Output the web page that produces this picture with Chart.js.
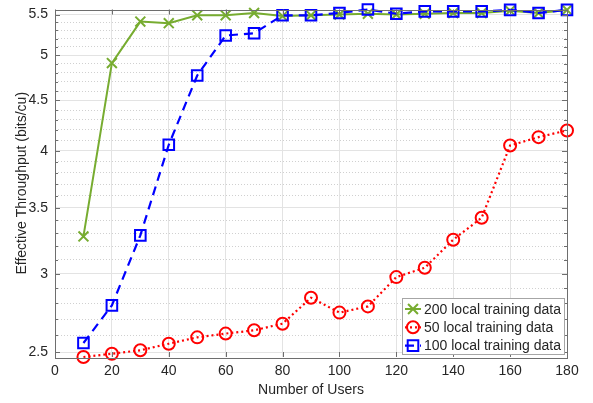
<!DOCTYPE html>
<html>
<head>
<meta charset="utf-8">
<script src="https://cdn.jsdelivr.net/npm/chart.js@4"></script>
<style>
  html, body { margin:0; padding:0; background:#fff; }
  canvas { display:block; }
</style>
</head>
<body>
<canvas id="ch" width="593" height="403"></canvas>
<script>
// ── data ──
const users     = [10, 20, 30, 40, 50, 60, 70, 80, 90, 100, 110, 120, 130, 140, 150, 160, 170, 180];
const data200   = [3.275, 4.91, 5.41, 5.39, 5.49, 5.49, 5.52, 5.48, 5.49, 5.50, 5.51, 5.50, 5.51, 5.52, 5.52, 5.55, 5.52, 5.56];
const data50    = [2.471, 2.49, 2.51, 2.549, 2.587, 2.61, 2.63, 2.671, 2.838, 2.741, 2.781, 2.978, 3.044, 3.25, 3.421, 4.05, 4.13, 4.195];
const data100   = [2.553, 2.788, 3.283, 4.057, 4.77, 5.237, 5.265, 5.49, 5.49, 5.52, 5.565, 5.51, 5.54, 5.54, 5.54, 5.56, 5.52, 5.56];
const xTicks    = [0, 20, 40, 60, 80, 100, 120, 140, 160, 180];
const yTicks    = [2.5, 2.6, 2.7, 2.8, 2.9, 3, 3.1, 3.2, 3.3, 3.4, 3.5, 3.6, 3.7, 3.8, 3.9, 4, 4.1, 4.2, 4.3, 4.4, 4.5, 4.6, 4.7, 4.8, 4.9, 5, 5.1, 5.2, 5.3, 5.4, 5.5];
const labels    = ['200 local training data', '50 local training data', '100 local training data'];

const FONT = '"Liberation Sans", Arial, sans-serif';
const TXT = '#262626';
const AX = '#6e6e6e';
const isMajor = v => Math.abs(v * 2 - Math.round(v * 2)) < 1e-6;

const pts = arr => users.map((u, i) => ({ x: u, y: arr[i] }));
const allY = [...data200, ...data50, ...data100];

// box, inward tick marks, legend inside the axes
const matlabBits = {
  id: 'matlabBits',
  afterDatasetsDraw(chart) {
    const { ctx, chartArea: a, scales } = chart;
    ctx.save();
    ctx.strokeStyle = AX;
    ctx.lineWidth = 1;
    ctx.beginPath();
    yTicks.forEach(v => {
      const y = Math.round(scales.y.getPixelForValue(v)) + 0.5;
      const len = isMajor(v) ? 5 : 3;
      ctx.moveTo(a.left, y); ctx.lineTo(a.left + len, y);
      ctx.moveTo(a.right, y); ctx.lineTo(a.right - len, y);
    });
    xTicks.forEach(v => {
      const x = Math.round(scales.x.getPixelForValue(v)) + 0.5;
      ctx.moveTo(x, a.bottom); ctx.lineTo(x, a.bottom - 5);
      ctx.moveTo(x, a.top); ctx.lineTo(x, a.top + 5);
    });
    ctx.stroke();
    ctx.strokeRect(Math.round(a.left) + 0.5, Math.round(a.top) + 0.5, Math.round(a.right - a.left), Math.round(a.bottom - a.top));

    // legend
    const bx = a.right - 165, by = a.bottom - 59, bw = 162, bh = 56;
    ctx.fillStyle = '#fff';
    ctx.fillRect(bx, by, bw, bh);
    ctx.strokeStyle = '#a6a6a6';
    ctx.strokeRect(bx + 0.5, by + 0.5, bw, bh);
    chart.data.datasets.forEach((ds, i) => {
      const cy = by + 11 + i * 18.3;
      ctx.save();
      ctx.strokeStyle = ds.borderColor;
      ctx.fillStyle = 'rgba(0,0,0,0)';
      ctx.lineWidth = ds.borderWidth;
      ctx.setLineDash(ds.borderDash || []);
      ctx.beginPath(); ctx.moveTo(bx + 3, cy); ctx.lineTo(bx + 19, cy); ctx.stroke();
      ctx.setLineDash([]);
      ctx.lineWidth = ds.pointBorderWidth;
      Chart.helpers.drawPoint(ctx, {
        pointStyle: ds.pointStyle, radius: ds.pointRadius, borderWidth: ds.pointBorderWidth, rotation: 0
      }, bx + 11, cy);
      ctx.restore();
      ctx.fillStyle = TXT;
      ctx.font = '14px ' + FONT;
      ctx.textBaseline = 'middle';
      ctx.fillText(labels[i], bx + 22, cy + 1);
    });
    ctx.restore();
  }
};

new Chart(document.getElementById('ch'), {
  type: 'line',
  data: {
    datasets: [
      { label: labels[0], data: pts(data200), borderColor: '#77ac30', backgroundColor: 'transparent',
        borderWidth: 2, pointStyle: 'crossRot', pointRadius: 7, pointBorderWidth: 2,
        pointBorderColor: '#77ac30', tension: 0, order: 3, clip: false },
      { label: labels[1], data: pts(data50), borderColor: '#ff0000', backgroundColor: 'transparent',
        borderWidth: 2.2, borderDash: [2, 3], pointStyle: 'circle', pointRadius: 6, pointBorderWidth: 2,
        pointBorderColor: '#ff0000', pointBackgroundColor: 'transparent', tension: 0, order: 2, clip: false },
      { label: labels[2], data: pts(data100), borderColor: '#0000ff', backgroundColor: 'transparent',
        borderWidth: 2.2, borderDash: [9, 6], pointStyle: 'rect', pointRadius: 7.5, pointBorderWidth: 2,
        pointBorderColor: '#0000ff', pointBackgroundColor: 'transparent', tension: 0, order: 1, clip: false },
    ]
  },
  options: {
    responsive: false,
    animation: false,
    layout: { padding: { top: 9, right: 26, left: 0, bottom: 0 } },
    plugins: { legend: { display: false }, tooltip: { enabled: false } },
    scales: {
      x: {
        type: 'linear', min: 0, max: 180,
        afterFit(s) { s.height = 46; },
        afterBuildTicks(s) { s.ticks = xTicks.map(v => ({ value: v })); },
        grid: { color: '#e3e3e3', drawTicks: false, lineWidth: 1 },
        border: { display: false },
        ticks: { color: TXT, font: { family: FONT, size: 14 }, padding: 6, autoSkip: false, maxRotation: 0 },
        title: { display: true, text: 'Number of Users', color: TXT, font: { family: FONT, size: 14 }, padding: { top: 0, bottom: 4 } }
      },
      y: {
        type: 'logarithmic',
        min: Math.min(...allY), max: Math.max(...allY),
        afterFit(s) { s.width = 55; s.paddingTop = 0; s.paddingBottom = 0; },
        afterBuildTicks(s) { s.ticks = yTicks.map(v => ({ value: v })); },
        grid: {
          drawTicks: false, lineWidth: 1,
          color: c => isMajor(c.tick.value) ? '#e3e3e3' : '#d0d0d0'
        },
        border: { display: false, dash: c => (c.tick && !isMajor(c.tick.value)) ? [1, 2] : [] },
        ticks: {
          color: TXT, font: { family: FONT, size: 14 }, padding: 7, autoSkip: false,
          callback: v => isMajor(v) ? String(Math.round(v * 10) / 10) : ''
        },
        title: { display: true, text: 'Effective Throughput (bits/cu)', color: TXT, font: { family: FONT, size: 14 }, padding: { top: 14, bottom: 0 } }
      }
    }
  },
  plugins: [matlabBits]
});
</script>
</body>
</html>
